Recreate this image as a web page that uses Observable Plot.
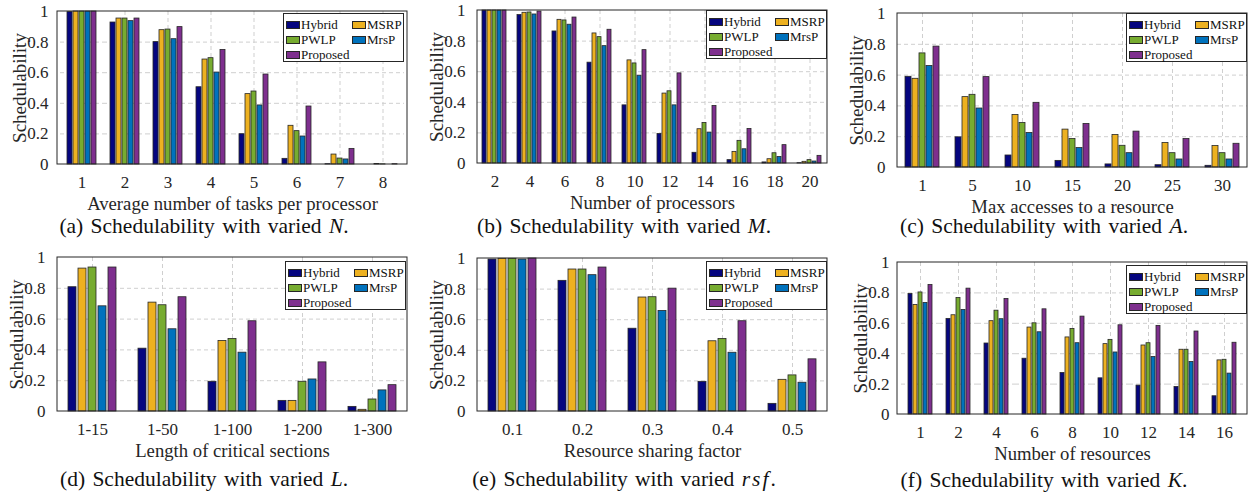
<!DOCTYPE html>
<html>
<head>
<meta charset="utf-8">
<script src="https://cdn.jsdelivr.net/npm/d3@7"></script>
<script src="https://cdn.jsdelivr.net/npm/@observablehq/plot@0.6"></script>
<style>
  body { margin: 0; background: #fff; }
  #root { position: relative; width: 1260px; height: 493px; overflow: hidden; background: #fff;
          font-family: "Liberation Serif", "Times New Roman", serif; color: #262626; }
  .panel { position: absolute; }
  .caption { position: absolute; font-size: 21.5px; line-height: 1; white-space: nowrap; word-spacing: 2px; color: #111; text-align: center; }
  .legend { position: absolute; box-sizing: border-box; border: 1px solid #262626; background: #fff;
            font-size: 13px; line-height: 15px; display: grid; grid-template-columns: 66px 50px;
            padding: 3px 0 0 2px; color: #111; }
  .legend .item { display: flex; align-items: center; white-space: nowrap; }
  .legend .sw { width: 14px; height: 8px; box-sizing: border-box; border: 1px solid #262626; margin-right: 1px; flex: none; }
  g[aria-label="y-axis label"] { font-size: 19px; }
  g[aria-label="fx-axis label"] { font-size: 18.7px; }
</style>
</head>
<body>
<div id="root"></div>
<script>
const series = ["Hybrid", "MSRP", "PWLP", "MrsP", "Proposed"];
const colors = ["#05057f", "#edb120", "#77ac30", "#0072bd", "#7e2f8e"];
const yTicks = [0, 0.2, 0.4, 0.6, 0.8, 1];

// (a) varied N
const catsA = ["1", "2", "3", "4", "5", "6", "7", "8"];
const hybridA = [0.996, 0.928, 0.80, 0.505, 0.198, 0.037, 0.002, 0];
const msrpA   = [1, 0.954, 0.878, 0.686, 0.46, 0.253, 0.065, 0.003];
const pwlpA   = [1, 0.954, 0.882, 0.695, 0.477, 0.218, 0.039, 0.001];
const mrspA   = [1, 0.937, 0.819, 0.601, 0.386, 0.183, 0.033, 0];
const propA   = [1, 0.954, 0.898, 0.749, 0.588, 0.379, 0.102, 0.002];

// (b) varied M
const catsB = ["2", "4", "6", "8", "10", "12", "14", "16", "18", "20"];
const hybridB = [1, 0.970, 0.863, 0.659, 0.38, 0.193, 0.07, 0.022, 0.007, 0.002];
const msrpB   = [1, 0.985, 0.939, 0.85, 0.674, 0.457, 0.224, 0.076, 0.028, 0.011];
const pwlpB   = [1, 0.987, 0.935, 0.826, 0.654, 0.472, 0.265, 0.148, 0.067, 0.022];
const mrspB   = [1, 0.974, 0.907, 0.767, 0.574, 0.38, 0.202, 0.093, 0.043, 0.013];
const propB   = [1, 0.993, 0.954, 0.874, 0.741, 0.589, 0.376, 0.226, 0.12, 0.05];

// (c) varied A
const catsC = ["1", "5", "10", "15", "20", "25", "30"];
const hybridC = [0.589, 0.196, 0.078, 0.043, 0.02, 0.015, 0.011];
const msrpC   = [0.576, 0.457, 0.341, 0.246, 0.211, 0.159, 0.139];
const pwlpC   = [0.741, 0.472, 0.289, 0.185, 0.141, 0.093, 0.093];
const mrspC   = [0.659, 0.383, 0.224, 0.126, 0.093, 0.052, 0.052];
const propC   = [0.785, 0.587, 0.42, 0.283, 0.233, 0.185, 0.154];

// (d) varied L
const catsD = ["1-15", "1-50", "1-100", "1-200", "1-300"];
const hybridD = [0.807, 0.408, 0.193, 0.069, 0.03];
const msrpD   = [0.928, 0.707, 0.458, 0.069, 0.011];
const pwlpD   = [0.935, 0.69, 0.471, 0.193, 0.078];
const mrspD   = [0.683, 0.534, 0.382, 0.208, 0.137];
const propD   = [0.935, 0.742, 0.586, 0.319, 0.171];

// (e) varied rsf
const catsE = ["0.1", "0.2", "0.3", "0.4", "0.5"];
const hybridE = [0.993, 0.854, 0.541, 0.194, 0.05];
const msrpE   = [0.998, 0.928, 0.745, 0.459, 0.207];
const pwlpE   = [0.998, 0.928, 0.747, 0.474, 0.236];
const mrspE   = [0.993, 0.891, 0.657, 0.384, 0.188];
const propE   = [1.0, 0.941, 0.803, 0.59, 0.341];

// (f) varied K
const catsF = ["1", "2", "4", "6", "8", "10", "12", "14", "16"];
const hybridF = [0.793, 0.629, 0.467, 0.367, 0.273, 0.238, 0.19, 0.181, 0.12];
const msrpF   = [0.721, 0.653, 0.614, 0.572, 0.507, 0.463, 0.454, 0.426, 0.356];
const pwlpF   = [0.803, 0.766, 0.683, 0.6, 0.563, 0.491, 0.469, 0.426, 0.36];
const mrspF   = [0.734, 0.688, 0.627, 0.541, 0.469, 0.408, 0.378, 0.345, 0.269];
const propF   = [0.852, 0.828, 0.76, 0.692, 0.644, 0.587, 0.583, 0.546, 0.472];

const root = document.getElementById("root");
const ML = 57, MR = 13, W = 420;

function makePanel(p) {
  const data = [];
  p.cats.forEach((c, i) => p.values.forEach((vals, j) => data.push({cat: c, series: series[j], value: vals[i]})));
  const H = p.plotBottom + 52;
  const grid = {stroke: "#cfcfcf", strokeOpacity: 1, strokeDasharray: "4,3", strokeWidth: 1};
  const svg = Plot.plot({
    width: W, height: H,
    marginLeft: ML, marginRight: MR, marginTop: p.plotTop, marginBottom: H - p.plotBottom,
    style: {fontFamily: '"Liberation Serif", "Times New Roman", serif', fontSize: "17px", color: "#262626", background: "transparent", overflow: "visible"},
    fx: {domain: p.cats, padding: 0},
    x: {domain: series, paddingInner: 0.18, paddingOuter: 0.85, axis: null},
    y: {domain: [0, 1]},
    color: {domain: series, range: colors},
    marks: [
      Plot.gridFx(grid),
      Plot.gridY(yTicks.slice(1, -1), grid),
      Plot.barY(data, {fx: "cat", x: "series", y: "value", fill: "series", stroke: "#262626", strokeWidth: 0.8}),
      Plot.axisY(yTicks, {tickSize: 0, tickPadding: 12, tickFormat: d => String(d), label: "Schedulability",
        labelAnchor: "center", labelArrow: "none", labelOffset: 48}),
      Plot.axisFx({anchor: "bottom", tickSize: 0, tickPadding: 11, label: p.xlabel,
        labelAnchor: "center", labelArrow: "none", labelOffset: 45})
    ]
  });
  d3.select(svg).append("rect")
    .attr("x", ML).attr("y", p.plotTop)
    .attr("width", W - ML - MR).attr("height", p.plotBottom - p.plotTop)
    .attr("fill", "none").attr("stroke", "#262626").attr("stroke-width", 1);
  const div = document.createElement("div");
  div.className = "panel";
  div.style.left = p.left + "px";
  div.style.top = p.top + "px";
  div.appendChild(svg);
  root.appendChild(div);

  // legend
  const lg = document.createElement("div");
  lg.className = "legend";
  lg.style.left = (p.left + p.legLeft) + "px";
  lg.style.top = (p.top + p.legTop) + "px";
  lg.style.width = "121px";
  lg.style.height = "49px";
  series.forEach((s, j) => {
    const it = document.createElement("div");
    it.className = "item";
    const sw = document.createElement("span");
    sw.className = "sw";
    sw.style.background = colors[j];
    it.appendChild(sw);
    it.appendChild(document.createTextNode(s));
    lg.appendChild(it);
  });
  root.appendChild(lg);

  // caption
  const cap = document.createElement("div");
  cap.className = "caption";
  cap.style.left = p.left + "px";
  cap.style.width = "408px";
  cap.style.top = (p.top + p.capBaseline - 18) + "px";
  cap.innerHTML = p.caption;
  root.appendChild(cap);
}

makePanel({left: 0, top: 0, plotTop: 11, plotBottom: 164, cats: catsA,
  values: [hybridA, msrpA, pwlpA, mrspA, propA], xlabel: "Average number of tasks per processor",
  caption: "(a) Schedulability with varied <i>N</i>.", legLeft: 283, legTop: 13, capBaseline: 234});
makePanel({left: 420, top: 0, plotTop: 10, plotBottom: 163, cats: catsB,
  values: [hybridB, msrpB, pwlpB, mrspB, propB], xlabel: "Number of processors",
  caption: "(b) Schedulability with varied <i>M</i>.", legLeft: 286, legTop: 10, capBaseline: 234});
makePanel({left: 840, top: 0, plotTop: 13, plotBottom: 167, cats: catsC,
  values: [hybridC, msrpC, pwlpC, mrspC, propC], xlabel: "Max accesses to a resource",
  caption: "(c) Schedulability with varied <i>A</i>.", legLeft: 286, legTop: 13, capBaseline: 234});
makePanel({left: 0, top: 240, plotTop: 17, plotBottom: 171, cats: catsD,
  values: [hybridD, msrpD, pwlpD, mrspD, propD], xlabel: "Length of critical sections",
  caption: "(d) Schedulability with varied <i>L</i>.", legLeft: 285, legTop: 21, capBaseline: 247});
makePanel({left: 420, top: 240, plotTop: 18, plotBottom: 171, cats: catsE,
  values: [hybridE, msrpE, pwlpE, mrspE, propE], xlabel: "Resource sharing factor",
  caption: "(e) Schedulability with varied <i style=\"letter-spacing:2px\">rsf</i>.", legLeft: 286, legTop: 21, capBaseline: 247});
makePanel({left: 840, top: 240, plotTop: 22, plotBottom: 174, cats: catsF,
  values: [hybridF, msrpF, pwlpF, mrspF, propF], xlabel: "Number of resources",
  caption: "(f) Schedulability with varied <i>K</i>.", legLeft: 286, legTop: 25, capBaseline: 248});
</script>
</body>
</html>
